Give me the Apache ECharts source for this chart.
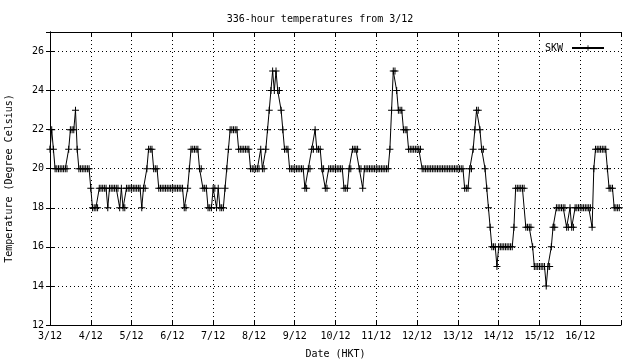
<!DOCTYPE html>
<html>
<head>
<meta charset="utf-8">
<script src="https://cdn.jsdelivr.net/npm/echarts@6/dist/echarts.min.js"></script>
<style>html,body{margin:0;padding:0;background:#fff}#c{width:640px;height:360px}</style>
</head>
<body>
<div id="c"></div>
<script>
// Tick labels (one per day, 24 hours apart)
const dayLabels = ['3/12','4/12','5/12','6/12','7/12','8/12','9/12','10/12','11/12','12/12','13/12','14/12','15/12','16/12'];
const seriesName = 'SKW';
// Hourly temperatures, one array per day (00h..23h)
const d03 = [21,22,21,20,20,20,20,20,20,20,20,21,22,22,22,23,21,20,20,20,20,20,20,20];
const d04 = [19,18,18,18,18,19,19,19,19,19,18,19,19,19,19,19,19,18,19,18,18,19,19,19];
const d05 = [19,19,19,19,19,19,18,19,19,20,21,21,21,20,20,20,19,19,19,19,19,19,19,19];
const d06 = [19,19,19,19,19,19,19,18,18,19,20,21,21,21,21,21,20,20,19,19,19,18,18,18];
const d07 = [19,19,18,19,18,18,18,19,20,21,22,22,22,22,22,21,21,21,21,21,21,21,20,20];
const d08 = [20,20,20,20,21,20,20,21,22,23,24,25,24,25,24,24,23,22,21,21,21,20,20,20];
const d09 = [20,20,20,20,20,20,19,19,20,20,21,21,22,21,21,21,20,20,19,19,20,20,20,20];
const d10 = [20,20,20,20,20,19,19,19,20,20,21,21,21,21,20,20,19,20,20,20,20,20,20,20];
const d11 = [20,20,20,20,20,20,20,20,21,23,25,25,24,23,23,23,22,22,22,21,21,21,21,21];
const d12 = [21,21,21,20,20,20,20,20,20,20,20,20,20,20,20,20,20,20,20,20,20,20,20,20];
const d13 = [20,20,20,20,19,19,19,20,20,21,22,23,23,22,21,21,20,19,18,17,16,16,16,15];
const d14 = [16,16,16,16,16,16,16,16,16,17,19,19,19,19,19,19,17,17,17,17,16,15,15,15];
const d15 = [15,15,15,15,14,15,15,16,17,17,18,18,18,18,18,18,17,17,18,17,17,18,18,18];
const d16 = [18,18,18,18,18,18,18,17,20,21,21,21,21,21,21,21,20,19,19,19,18,18,18,18];

const temps = [].concat(d03,d04,d05,d06,d07,d08,d09,d10,d11,d12,d13,d14,d15,d16);
const data = temps.map((v, i) => [i, v]);

const FONT = 'DejaVu Sans Mono';
const plus = 'path://M3,0h1v7h-1z M0,3h7v1h-7z';
const dotted = { color: '#000', width: 1, type: [1, 3] };
const black = { color: '#000', width: 1 };

const chart = echarts.init(document.getElementById('c'), null, { renderer: 'canvas' });
chart.setOption({
  animation: false,
  backgroundColor: '#fff',
  textStyle: { fontFamily: FONT, fontSize: 10, color: '#000' },
  title: {
    text: '336-hour temperatures from 3/12',
    left: 'center', top: 9,
    textStyle: { fontFamily: FONT, fontSize: 10, fontWeight: 'normal', color: '#000' }
  },
  legend: {
    data: [seriesName],
    right: 30, top: 38,
    align: 'right',
    itemWidth: 32, itemHeight: 7, itemGap: 0,
    textStyle: { fontFamily: FONT, fontSize: 10, color: '#000', padding: [0, 4, 0, 0] }
  },
  grid: { left: 50, right: 19, top: 32, bottom: 35, containLabel: false, outerBoundsMode: 'none' },
  xAxis: [{
    type: 'value', min: 0, max: 336, interval: 24, position: 'bottom',
    name: 'Date (HKT)', nameLocation: 'middle', nameGap: 24,
    nameTextStyle: { fontFamily: FONT, fontSize: 10, color: '#000' },
    axisLine: { show: true, lineStyle: black },
    axisTick: { show: true, inside: true, length: 4, lineStyle: black },
    axisLabel: { margin: 6, fontFamily: FONT, fontSize: 10, color: '#000',
      formatter: v => dayLabels[v / 24] || '' },
    splitLine: { show: true, lineStyle: dotted }
  }, {
    type: 'value', min: 0, max: 336, interval: 24, position: 'top',
    axisLine: { show: true, lineStyle: black },
    axisTick: { show: true, inside: true, length: 4, lineStyle: black },
    axisLabel: { show: false }, splitLine: { show: false }
  }],
  yAxis: [{
    type: 'value', min: 12, max: 27, interval: 2, position: 'left',
    name: 'Temperature (Degree Celsius)', nameLocation: 'middle', nameGap: 36, nameRotate: 90,
    nameTextStyle: { fontFamily: FONT, fontSize: 10, color: '#000' },
    axisLine: { show: true, lineStyle: black },
    axisTick: { show: true, inside: true, length: 4, lineStyle: black },
    axisLabel: { margin: 6, fontFamily: FONT, fontSize: 10, color: '#000', showMaxLabel: false },
    splitLine: { show: true, lineStyle: dotted }
  }, {
    type: 'value', min: 12, max: 27, interval: 2, position: 'right',
    axisLine: { show: true, lineStyle: black },
    axisTick: { show: true, inside: true, length: 4, lineStyle: black },
    axisLabel: { show: false }, splitLine: { show: false }
  }],
  series: [{
    name: seriesName, type: 'line', data: data,
    xAxisIndex: 0, yAxisIndex: 0,
    showSymbol: true, symbol: plus, symbolSize: 7,
    lineStyle: { color: '#000', width: 1 },
    itemStyle: { color: '#000' },
    emphasis: { disabled: true }
  }]
});
</script>
</body>
</html>
